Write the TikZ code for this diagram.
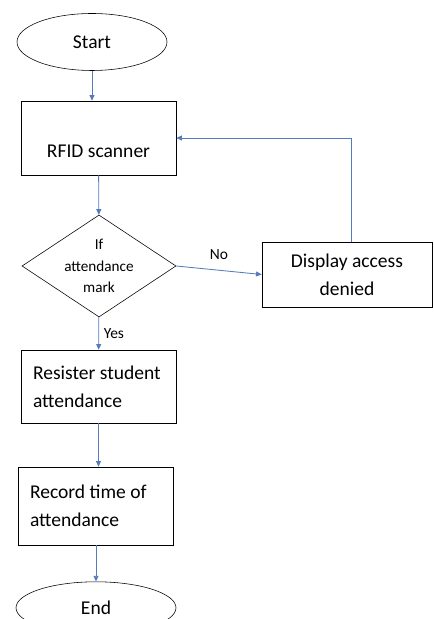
\documentclass[tikz,border=0pt]{standalone}
\usepackage{fontspec}
\setmainfont{Carlito}
\usetikzlibrary{shapes.geometric,arrows.meta}
\definecolor{flowblue}{RGB}{84,124,188}
\begin{document}
\begin{tikzpicture}[
    term/.style={draw,ellipse,inner sep=0pt,minimum width=3.75cm,minimum height=1.425cm,font=\fontsize{13.9}{19.8}\selectfont},
    box/.style={draw,rectangle,minimum width=3.875cm,align=center,font=\fontsize{13.9}{19.8}\selectfont},
    dec/.style={draw,diamond,aspect=1.5,inner sep=0pt,minimum width=3.85cm,minimum height=2.55cm,align=center,font=\fontsize{10.8}{15.3}\selectfont},
    arr/.style={draw=flowblue,line width=0.6pt,-{Triangle[length=4pt,width=3.5pt]}},
    lbl/.style={font=\fontsize{11}{13}\selectfont}
  ]
    \useasboundingbox (0,0) rectangle (10.825,15.475);
    \clip (0,0) rectangle (10.825,15.475);

    % 开始
    \node[term] (start) at (2.3,14.425) {Start};
    % 读卡器
    \node[box,minimum height=1.85cm,text height=1cm] (rfid) at (2.4625,12.025) {RFID scanner};
    % 判断
    \node[dec] (check) at (2.475,8.825) {If\\attendance\\mark};
    % 拒绝
    \node[box,minimum width=4.25cm,minimum height=1.625cm] (deny) at (8.675,8.6125) {Display access\\denied};
    % 登记
    \node[box,minimum height=1.825cm,inner xsep=0.3cm,text width=3.275cm,align=flush left] (reg) at (2.4625,5.8125) {Resister student\\attendance};
    % 记录时间
    \node[box,minimum height=1.95cm,inner xsep=0.3cm,text width=3.275cm,align=flush left] (rec) at (2.3875,2.825) {Record time of\\attendance};
    % 结束
    \node[term,minimum width=4cm,minimum height=1.3cm] (stop) at (2.4,0.28) {End};

    % 连线
    \draw[arr] (start) -- (start |- rfid.north);
    \draw[arr] (rfid) -- (check);
    \draw[arr] (check.east) -- node[lbl,above=4pt] {No} (deny.west);
    \draw[arr] ([xshift=0.1cm]deny.north) |- (rfid.east);
    \draw[arr] (check) -- node[lbl,right] {Yes} (reg);
    \draw[arr] (reg) -- (reg.south |- rec.north);
    \draw[arr] (stop |- rec.south) -- (stop);
\end{tikzpicture}
\end{document}
